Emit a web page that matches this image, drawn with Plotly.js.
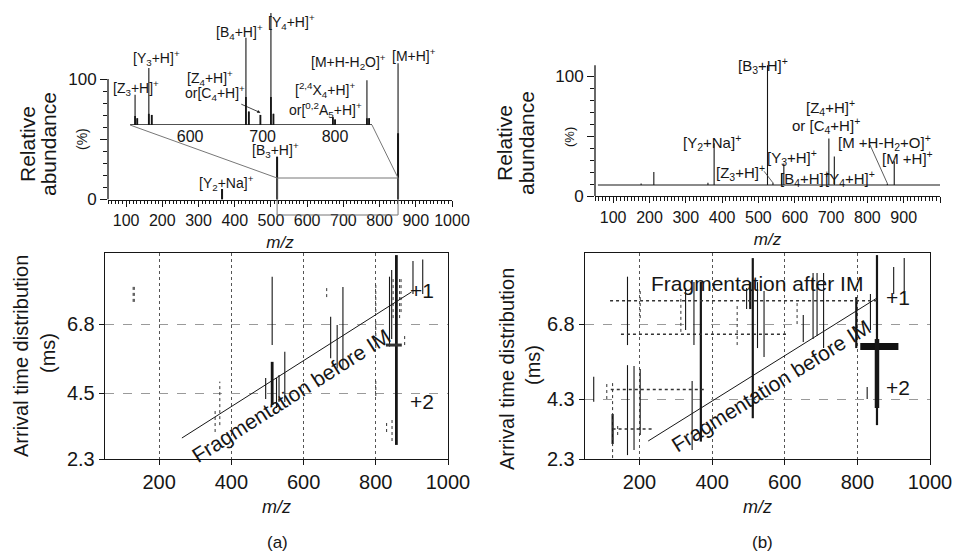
<!DOCTYPE html>
<html><head><meta charset="utf-8">
<script src="https://cdn.plot.ly/plotly-3.0.1.min.js"></script>
<style>html,body{margin:0;padding:0;background:#fff}#chart{width:956px;height:552px}</style>
</head><body><div id="chart"></div>
<script>
// ================= DATA =================
// (a) MS/MS spectrum (relative abundance, %)
const specA_mz   = [365, 517, 851];
const specA_rel  = [8.7, 35.5, 113];
const specA_core = [8.7, 35.5, 55];
// (a) expanded inset, m/z 517-851 (relative to inset maximum, %)
const insetA_mz   = [524, 527, 543, 547, 677, 681, 697, 711.5, 715, 797, 800, 844, 847];
const insetA_rel  = [27, 6, 51, 9, 78, 12, 9, 100, 10, 7, 5, 40, 6];
const insetA_core = [8, 6, 10, 9, 25, 12, 9, 25, 10, 7, 5, 6, 6];
const insetA_ticks = [600, 700, 800];
// (b) MS/MS spectrum (offset baseline, %)
const specB_offset = 9.2;
const specB_span = [58, 1015];
const specB_mz  = [177, 212, 361, 378, 525, 540, 564, 570, 694, 709, 855, 874];
const specB_rel = [10.5, 20, 11, 44, 109, 11, 19, 27, 48, 33, 10.5, 29];

// peak labels
const labelsA = ['[Y<sub>3</sub>+H]<sup>+</sup>','[Z<sub>3</sub>+H]<sup>+</sup>','[B<sub>4</sub>+H]<sup>+</sup>',
  '[Y<sub>4</sub>+H]<sup>+</sup>','[Z<sub>4</sub>+H]<sup>+</sup>','[M+H-H<sub>2</sub>O]<sup>+</sup>',
  '[<sup>2,4</sup>X<sub>4</sub>+H]<sup>+</sup>','or[<sup>0,2</sup>A<sub>5</sub>+H]<sup>+</sup>','[M+H]<sup>+</sup>',
  '[B<sub>3</sub>+H]<sup>+</sup>','[Y<sub>2</sub>+Na]<sup>+</sup>'];
const labelA_arrow = 'or[C<sub>4</sub>+H]<sup>+</sup>';
const labelsB = ['[B<sub>3</sub>+H]<sup>+</sup>','[Z<sub>4</sub>+H]<sup>+</sup>','or [C<sub>4</sub>+H]<sup>+</sup>',
  '[Y<sub>2</sub>+Na]<sup>+</sup>','[M +H-H<sub>2</sub>+O]<sup>+</sup>','[M +H]<sup>+</sup>','[Y<sub>3</sub>+H]<sup>+</sup>',
  '[Z<sub>3</sub>+H]<sup>+</sup>','[B<sub>4</sub>+H]<sup>+</sup>','[Y<sub>4</sub>+H]<sup>+</sup>'];

// (a) arrival time distribution: vertical streaks (m/z, t low, t high in ms)
const atdA_thin_mz = [495, 513, 525, 532, 548, 675, 693, 709, 838, 844, 903, 930];
const atdA_thin_lo = [4.3, 6.1, 4.0, 4.2, 4.2, 5.66, 5.32, 5.32, 6.05, 6.3, 7.8, 7.8];
const atdA_thin_hi = [5.0, 8.38, 5.0, 5.1, 5.88, 7.04, 6.77, 8.04, 8.38, 8.6, 8.9, 8.95];
const atdA_thick_mz = [513, 857];
const atdA_thick_lo = [4.1, 2.77];
const atdA_thick_hi = [5.54, 9.1];
const atdA_dot_mz = [128, 131, 355, 368, 664, 800, 800, 800, 830, 845, 880, 848, 866, 870];
const atdA_dot_lo = [7.54, 7.54, 3.2, 3.43, 7.7, 7.2, 6.0, 4.4, 3.2, 2.9, 6.1, 7.0, 7.0, 7.2];
const atdA_dot_hi = [8.04, 8.04, 3.9, 4.88, 8.0, 8.15, 6.9, 4.9, 3.6, 3.7, 6.4, 8.4, 8.4, 8.3];
const atdA_blob_t = [6.1];
const atdA_blob_from = [828];
const atdA_blob_to = [872];
const guideA_mz = [263, 899];
const guideA_t  = [3.0, 7.87];

// (b) arrival time distribution
const atdB_thin_mz = [74, 167, 167, 185, 202, 327, 350, 345, 495, 525, 543, 651, 678, 689, 707, 836, 827, 900, 929];
const atdB_thin_lo = [4.21, 6.1, 2.43, 2.6, 3.1, 6.6, 6.1, 2.6, 7.3, 6.0, 5.7, 6.2, 6.3, 6.4, 6.0, 6.6, 4.3, 7.8, 7.8];
const atdB_thin_hi = [5.04, 8.38, 5.43, 5.4, 5.3, 8.0, 8.2, 4.9, 8.0, 8.2, 7.9, 7.1, 8.5, 8.5, 8.5, 7.8, 4.7, 8.7, 9.0];
const atdB_thick_mz = [126, 369, 505, 512, 797, 854];
const atdB_thick_lo = [2.8, 2.88, 7.3, 3.66, 6.0, 3.43];
const atdB_thick_hi = [3.8, 8.21, 8.2, 9.0, 7.7, 9.1];
const atdB_dot_mz = [126, 202, 314, 469, 634, 110, 140];
const atdB_dot_lo = [2.33, 7.0, 6.54, 6.1, 6.8, 4.3, 3.1];
const atdB_dot_hi = [4.93, 8.0, 7.77, 7.5, 7.6, 4.8, 3.5];
const atdB_h_t    = [7.58, 6.46, 4.62, 3.30];
const atdB_h_from = [119, 149, 121, 126];
const atdB_h_to   = [854, 611, 378, 236];
const atdB_blob_t = [6.05];
const atdB_blob_from = [808];
const atdB_blob_to = [913];
const atdB_core_mz = [854];
const atdB_core_lo = [4.0];
const atdB_core_hi = [6.3];
const guideB_mz = [224, 853];
const guideB_t  = [2.9, 7.66];

const atdA_yticks = [2.3, 4.5, 6.8];
const atdB_yticks = [2.3, 4.3, 6.8];
const atd_xticks = [200, 400, 600, 800, 1000];

// ================= HELPERS =================
const W = 956, H = 552;
const fx = p => p / W, fy = p => 1 - p / H;
const FONT = 'Liberation Sans, Arial, Helvetica, sans-serif';
const INK = '#161616';

function sticks(mz, base, top) {
  const x = [], y = [];
  mz.forEach((m, i) => { x.push(m, m, null); y.push(Array.isArray(base) ? base[i] : base, top[i], null); });
  return {x, y};
}
function vsegs(mz, lo, hi) {
  const x = [], y = [];
  mz.forEach((m, i) => { x.push(m, m, null); y.push(lo[i], hi[i], null); });
  return {x, y};
}
function hsegs(t, a, b) {
  const x = [], y = [];
  t.forEach((v, i) => { x.push(a[i], b[i], null); y.push(v, v, null); });
  return {x, y};
}
function lineTrace(d, xa, ya, width, color, dash) {
  return {type: 'scatter', mode: 'lines', x: d.x, y: d.y, xaxis: xa, yaxis: ya,
    line: {color: color || INK, width: width, dash: dash || 'solid'}, hoverinfo: 'skip', connectgaps: false};
}

// ================= TRACES =================
const traces = [];
// top (a)
traces.push(lineTrace(sticks(specA_mz, 0, specA_rel), 'x', 'y', 1.1));
traces.push(lineTrace(sticks(specA_mz, 0, specA_core), 'x', 'y', 2));
// inset (a)
traces.push(lineTrace({x: [insetA_mz[0] - 7, 851], y: [0, 0]}, 'x5', 'y5', 1.6));
traces.push(lineTrace(sticks(insetA_mz, 0, insetA_rel), 'x5', 'y5', 1.1));
traces.push(lineTrace(sticks(insetA_mz, 0, insetA_core), 'x5', 'y5', 1.8));
// top (b)
traces.push(lineTrace({x: specB_span, y: [specB_offset, specB_offset]}, 'x3', 'y3', 1.1));
traces.push(lineTrace(sticks(specB_mz, specB_offset, specB_rel), 'x3', 'y3', 1.1));
// ATD (a)
traces.push(lineTrace(vsegs(atdA_thin_mz, atdA_thin_lo, atdA_thin_hi), 'x2', 'y2', 1.1));
traces.push(lineTrace(vsegs(atdA_thick_mz, atdA_thick_lo, atdA_thick_hi), 'x2', 'y2', 2.8));
traces.push(lineTrace(vsegs(atdA_dot_mz, atdA_dot_lo, atdA_dot_hi), 'x2', 'y2', 1, '#333', 'dot'));
traces.push(lineTrace(hsegs(atdA_blob_t, atdA_blob_from, atdA_blob_to), 'x2', 'y2', 3, '#333'));
traces.push(lineTrace({x: guideA_mz, y: guideA_t}, 'x2', 'y2', 1));
// ATD (b)
traces.push(lineTrace(vsegs(atdB_thin_mz, atdB_thin_lo, atdB_thin_hi), 'x4', 'y4', 1.1));
traces.push(lineTrace(vsegs(atdB_thick_mz, atdB_thick_lo, atdB_thick_hi), 'x4', 'y4', 2.2));
traces.push(lineTrace(vsegs(atdB_dot_mz, atdB_dot_lo, atdB_dot_hi), 'x4', 'y4', 1, '#333', 'dot'));
traces.push(lineTrace(hsegs(atdB_h_t, atdB_h_from, atdB_h_to), 'x4', 'y4', 1.6, '#333', 'dot'));
traces.push(lineTrace(hsegs(atdB_blob_t, atdB_blob_from, atdB_blob_to), 'x4', 'y4', 7, '#111'));
traces.push(lineTrace(vsegs(atdB_core_mz, atdB_core_lo, atdB_core_hi), 'x4', 'y4', 4.5));
traces.push(lineTrace({x: guideB_mz, y: guideB_t}, 'x4', 'y4', 1));

// ================= LAYOUT =================
const TA = {x0: 108, x1: 452, y0: 199.5, pxPer: 1.205};   // top (a)
const TB = {x0: 595, x1: 940, y0: 196, pxPer: 1.2};       // top (b)
const INS = {x0: 130, x1: 372, y0: 125, y1: 13};          // inset (a)
const BA = {x0: 105, x1: 448, y0: 459, y1: 253};          // ATD (a)
const BB = {x0: 585, x1: 930, y0: 459, y1: 253};          // ATD (b)
const SPEC_RANGE = [50, 1000], SPEC_YMAX = 118;
const tickFont = {family: FONT, size: 16, color: INK};
const bigFont = {family: FONT, size: 20, color: INK};

function specX(dom, anchor) {
  return {domain: [fx(dom.x0), fx(dom.x1)], range: SPEC_RANGE, anchor: anchor,
    showline: true, linecolor: INK, linewidth: 1.3, ticks: 'outside', ticklen: 6, tickwidth: 1, tickcolor: INK,
    tickmode: 'linear', tick0: 0, dtick: 100, tickfont: tickFont, showgrid: false, zeroline: false,
    minor: {ticks: 'outside', ticklen: 3.5, tickwidth: 1, tickcolor: INK, dtick: 10, tick0: 0, showgrid: false},
    title: {text: '<i>m/z</i>', font: {family: FONT, size: 17, color: INK}, standoff: 8}};
}
function specY(dom, anchor) {
  return {domain: [fy(dom.y0), fy(dom.y0 - SPEC_YMAX * dom.pxPer)], range: [0, SPEC_YMAX], anchor: anchor,
    showline: false, ticks: 'outside', ticklen: 7, tickwidth: 1, tickcolor: INK,
    tickmode: 'array', tickvals: [0, 50, 100], ticktext: ['0', '', '100'], tickfont: {family: FONT, size: 17, color: INK},
    minor: {ticks: 'outside', ticklen: 4, tickwidth: 1, tickcolor: INK, tickmode: 'array',
      tickvals: [10, 20, 30, 40, 60, 70, 80, 90], showgrid: false},
    showgrid: false, zeroline: false};
}
function atdX(dom, anchor) {
  return {domain: [fx(dom.x0), fx(dom.x1)], range: [50, 1000], anchor: anchor,
    showline: true, mirror: true, linecolor: INK, linewidth: 1.3, ticks: 'outside', ticklen: 5, tickcolor: INK,
    tickmode: 'array', tickvals: atd_xticks, tickfont: bigFont, showgrid: true, gridcolor: '#555', griddash: 'dot', gridwidth: 1,
    zeroline: false, title: {text: '<i>m/z</i>', font: {family: FONT, size: 18, color: INK}, standoff: 8}};
}
function atdY(dom, anchor, ticks) {
  return {domain: [fy(dom.y0), fy(dom.y1)], range: [2.3, 9.17], anchor: anchor,
    showline: true, mirror: true, linecolor: INK, linewidth: 1.3, ticks: 'outside', ticklen: 5, tickcolor: INK,
    tickmode: 'array', tickvals: ticks, ticktext: ticks.map(v => v.toFixed(1)), tickfont: bigFont,
    showgrid: true, gridcolor: '#9a9a9a', griddash: 'dash', gridwidth: 1, zeroline: false};
}

const insX = {domain: [fx(INS.x0), fx(INS.x1)], range: [517, 851], anchor: 'y5', showline: false,
  ticks: '', tickmode: 'array', tickvals: insetA_ticks, tickfont: tickFont, showgrid: false, zeroline: false};
const insY = {domain: [fy(INS.y0), fy(INS.y1)], range: [0, 100], anchor: 'x5', visible: false};

// annotations
const ann = [];
function txt(s, px, py, size, extra) {
  ann.push(Object.assign({text: s, xref: 'paper', yref: 'paper', x: fx(px), y: fy(py), showarrow: false,
    font: {family: FONT, size: size, color: INK}, xanchor: 'center', yanchor: 'middle'}, extra || {}));
}
const labelA_pos = [[156, 58], [136, 88], [239, 32], [291, 22], [210, 78], [348, 62], [325, 90], [325, 110], [414, 55], [275, 150], [226, 183]];
labelsA.forEach((s, i) => txt(s, labelA_pos[i][0], labelA_pos[i][1], 14));
ann.push({text: labelA_arrow, xref: 'x5', yref: 'y5', x: insetA_mz[6], y: insetA_rel[6] + 2, ax: -45, ay: -20,
  showarrow: true, arrowhead: 2, arrowsize: 0.8, arrowwidth: 0.8, arrowcolor: INK, standoff: 0,
  font: {family: FONT, size: 14, color: INK}});
const labelB_pos = [[763, 66], [830, 108], [826, 125], [712, 142], [884, 142], [907, 158], [792, 158], [740, 172], [805, 178], [850, 178]];
labelsB.forEach((s, i) => txt(s, labelB_pos[i][0], labelB_pos[i][1], 15));
ann.push({text: '', xref: 'x3', yref: 'y3', x: specB_mz[5], y: specB_rel[5], ax: -10, ay: -13,
  showarrow: true, arrowhead: 0, arrowwidth: 0.8, arrowcolor: '#333'});
ann.push({text: '', xref: 'x3', yref: 'y3', x: specB_mz[10], y: specB_rel[10], ax: -18, ay: -40,
  showarrow: true, arrowhead: 0, arrowwidth: 0.8, arrowcolor: '#333'});

// axis titles drawn as rotated text
txt('Relative', 27, 144, 21, {textangle: -90});
txt('abundance', 48, 144, 21, {textangle: -90});
txt('(%)', 82, 139, 14, {textangle: -90});
txt('Relative', 505, 143, 21, {textangle: -90});
txt('abundance', 527, 143, 21, {textangle: -90});
txt('(%)', 569, 137, 13, {textangle: -90});
txt('Arrival time distribution', 21, 356, 20, {textangle: -90});
txt('(ms)', 48, 353, 20, {textangle: -90});
txt('Arrival time distribution', 507, 369, 20, {textangle: -90});
txt('(ms)', 533, 365, 20, {textangle: -90});
txt('(a)', 277, 542, 17);
txt('(b)', 762, 542, 17);

function dtxt(s, xa, ya, x, y, size, angle) {
  ann.push({text: s, xref: xa, yref: ya, x: x, y: y, showarrow: false, textangle: angle || 0,
    font: {family: FONT, size: size, color: INK}});
}
dtxt('Fragmentation before IM', 'x2', 'y2', 566, 4.42, 21, -32.4);
dtxt('+1', 'x2', 'y2', 927, 7.93, 21);
dtxt('+2', 'x2', 'y2', 927, 4.21, 21);
dtxt('Fragmentation after IM', 'x4', 'y4', 523, 8.16, 21);
dtxt('Fragmentation before IM', 'x4', 'y4', 563, 4.75, 21, -32);
dtxt('+1', 'x4', 'y4', 912, 7.67, 21);
dtxt('+2', 'x4', 'y4', 912, 4.67, 21);

// shapes: spectrum y-axis lines, zoom box and connectors
const pxA = v => TA.x0 + (v - SPEC_RANGE[0]) / (SPEC_RANGE[1] - SPEC_RANGE[0]) * (TA.x1 - TA.x0);
const boxTopPx = 178, boxBotPx = 215;
const grey = '#777';
const shapes = [
  {type: 'line', xref: 'paper', yref: 'y', x0: fx(TA.x0), x1: fx(TA.x0), y0: 0, y1: 100, line: {color: INK, width: 1.3}},
  {type: 'line', xref: 'paper', yref: 'y3', x0: fx(TB.x0), x1: fx(TB.x0), y0: 0, y1: 109, line: {color: INK, width: 1.3}},
  {type: 'rect', xref: 'x', yref: 'paper', x0: insX.range[0], x1: insX.range[1], y0: fy(boxBotPx), y1: fy(boxTopPx), line: {color: grey, width: 1}},
  {type: 'line', xref: 'paper', yref: 'paper', x0: fx(INS.x0), y0: fy(INS.y0), x1: fx(pxA(insX.range[0])), y1: fy(boxTopPx), line: {color: grey, width: 1}},
  {type: 'line', xref: 'paper', yref: 'paper', x0: fx(INS.x1), y0: fy(INS.y0), x1: fx(pxA(insX.range[1])), y1: fy(boxTopPx), line: {color: grey, width: 1}}
];

const layout = {
  width: W, height: H, margin: {l: 0, r: 0, t: 0, b: 0}, showlegend: false,
  paper_bgcolor: '#fff', plot_bgcolor: 'rgba(0,0,0,0)', font: {family: FONT, color: INK},
  xaxis: specX(TA, 'y'), yaxis: specY(TA, 'x'),
  xaxis3: specX(TB, 'y3'), yaxis3: specY(TB, 'x3'),
  xaxis2: atdX(BA, 'y2'), yaxis2: atdY(BA, 'x2', atdA_yticks),
  xaxis4: atdX(BB, 'y4'), yaxis4: atdY(BB, 'x4', atdB_yticks),
  xaxis5: insX, yaxis5: insY,
  annotations: ann, shapes: shapes
};
Plotly.newPlot('chart', traces, layout, {staticPlot: true, displayModeBar: false});
</script></body></html>
